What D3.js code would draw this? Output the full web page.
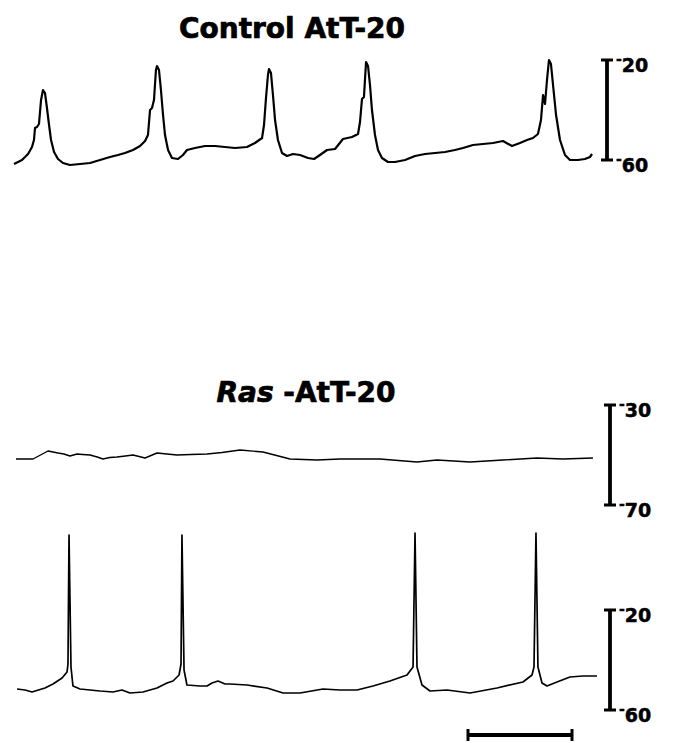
<!DOCTYPE html>
<html>
<head>
<meta charset="utf-8">
<script src="https://cdn.jsdelivr.net/npm/d3@7"></script>
<style>
  body { margin: 0; background: #fff; }
  svg { display: block; }
  .title { font-family: "DejaVu Sans", sans-serif; font-weight: bold; font-size: 28px; stroke: #000; stroke-width: 0.7px; }
  .bar-label { font-family: "DejaVu Sans", sans-serif; font-weight: bold; font-size: 19px; stroke: #000; stroke-width: 0.5px; }
</style>
</head>
<body>
<div id="chart"></div>
<script>
// membrane potential traces, time in s, voltage in mV
var controlTime = [0, .077, .135, .173, .192, .202, .221, .24, .26, .279, .298, .317, .337, .356, .385, .423, .471, .538, .635, .731, .827, .923, 1.0, 1.067, 1.144, 1.212, 1.26, 1.288, 1.308, 1.327, 1.346, 1.365, 1.375, 1.394, 1.413, 1.433, 1.452, 1.481, 1.519, 1.577, 1.625, 1.663, 1.74, 1.837, 1.933, 2.029, 2.125, 2.24, 2.317, 2.385, 2.404, 2.423, 2.442, 2.452, 2.471, 2.49, 2.51, 2.538, 2.577, 2.625, 2.683, 2.75, 2.827, 2.885, 2.942, 3.01, 3.087, 3.163, 3.25, 3.308, 3.327, 3.346, 3.365, 3.385, 3.404, 3.423, 3.442, 3.471, 3.5, 3.538, 3.596, 3.663, 3.76, 3.856, 3.952, 4.048, 4.144, 4.24, 4.317, 4.413, 4.51, 4.606, 4.702, 4.788, 4.865, 4.933, 4.99, 5.038, 5.067, 5.087, 5.106, 5.125, 5.144, 5.163, 5.183, 5.212, 5.25, 5.298, 5.346, 5.423, 5.49, 5.538, 5.558];
var controlVm = [-61.6, -60, -57.6, -54.8, -52, -47.2, -46.8, -45.6, -36, -32, -33.2, -39.2, -46, -52, -56.8, -59.6, -61.2, -62, -61.6, -61.2, -60, -58.8, -58, -57.2, -56, -54.4, -52.4, -50, -40, -39.2, -36, -24, -22.4, -24, -32, -42, -50, -56, -59.2, -59.6, -58, -56, -55.2, -54.4, -54.4, -54.8, -55.2, -54.8, -53.2, -51.2, -46, -35.2, -26, -23.6, -25.2, -34, -44, -52, -57.2, -58.4, -57.6, -58, -59.2, -59.6, -58, -56, -55.6, -51.6, -50.8, -49.6, -44.8, -35.6, -34.8, -20.8, -22.4, -30, -40, -50, -56, -59.2, -60.8, -60.8, -60, -58.4, -57.6, -57.2, -56.8, -56, -55.2, -54, -53.6, -53.2, -52.4, -54.4, -53.2, -52, -51.2, -49.6, -44, -34, -37.6, -28, -20, -21.6, -30, -42, -52, -58, -60, -60, -59.6, -58.8, -57.6];

var rasQuietTime = [.019, .183, .327, .375, .423, .48, .538, .606, .66, .731, .8, .856, .92, .99, 1.07, 1.144, 1.26, 1.375, 1.567, 1.7, 1.856, 2.0, 2.173, 2.394, 2.654, 2.913, 3.135, 3.519, 3.875, 4.067, 4.385, 4.702, 5.029, 5.279, 5.567];
var rasQuietVm = [-51.6, -51.6, -48.4, -48.8, -49.2, -49.6, -50.4, -49.6, -49.8, -50, -50.8, -51.6, -51, -50.8, -50.4, -50, -51.2, -49.2, -50, -49.8, -49.6, -49, -48, -48.8, -51.6, -52, -51.6, -51.6, -52.8, -52, -52.8, -52, -51.2, -51.6, -51.2];

var rasFiringTime = [.029, .106, .173, .298, .375, .462, .51, .519, .529, .548, .567, .635, .827, .952, 1.038, 1.115, 1.24, 1.375, 1.471, 1.529, 1.587, 1.606, 1.615, 1.635, 1.663, 1.788, 1.856, 1.904, 1.962, 2.029, 2.077, 2.24, 2.433, 2.587, 2.75, 2.971, 3.135, 3.298, 3.452, 3.615, 3.779, 3.837, 3.856, 3.875, 3.923, 4.0, 4.163, 4.385, 4.644, 4.894, 4.981, 5.0, 5.019, 5.038, 5.077, 5.125, 5.221, 5.346, 5.471, 5.606];
var rasFiringVm = [-51.6, -52, -52.8, -51.2, -49.6, -47.2, -44.8, -41.6, 10, -42.8, -50.4, -51.6, -52.4, -52.8, -52, -53.2, -52.8, -51.2, -49.2, -48.4, -46, -41.6, 10, -44, -50, -50.4, -50.4, -49.2, -48.4, -49.6, -49.6, -50, -51.2, -53.2, -53.2, -51.6, -52, -52, -50.4, -48.4, -46, -42.8, 10.8, -42.8, -50, -52.4, -52, -53.2, -51.2, -48.8, -46, -42.8, 10.8, -42.8, -49.2, -50.4, -48.8, -46.8, -46.4, -46.4];

// voltage scale bars (mV): [bottom, top]
var controlScale = [-60, -20];
var rasQuietScale = [-70, -30];
var rasFiringScale = [-60, -20];
var timeBarSeconds = 1;

var titles = ["Control AtT-20", "Ras", " -AtT-20"];

var width = 674, height = 743;

var svg = d3.select("#chart").append("svg")
  .attr("width", width)
  .attr("height", height);

var x = d3.scaleLinear().domain([0, 1]).range([14, 118]);

var panels = [
  { time: controlTime, vm: controlVm, scale: controlScale, range: [160, 60], barX: 607, sw: 2.2 },
  { time: rasQuietTime, vm: rasQuietVm, scale: rasQuietScale, range: [505, 405], barX: 610, sw: 1.4 },
  { time: rasFiringTime, vm: rasFiringVm, scale: rasFiringScale, range: [710, 610], barX: 610, sw: 1.7 }
];

panels.forEach(function(p) {
  var y = d3.scaleLinear().domain(p.scale).range(p.range);
  var pts = p.time.map(function(t, i) { return [t, p.vm[i]]; });

  var line = d3.line()
    .x(function(d) { return x(d[0]); })
    .y(function(d) { return y(d[1]); });

  svg.append("path")
    .datum(pts)
    .attr("d", line)
    .attr("fill", "none")
    .attr("stroke", "#000")
    .attr("stroke-width", p.sw)
    .attr("stroke-linejoin", "round");

  var g = svg.append("g");
  g.append("line")
    .attr("x1", p.barX).attr("x2", p.barX)
    .attr("y1", y(p.scale[0])).attr("y2", y(p.scale[1]))
    .attr("stroke", "#000").attr("stroke-width", 3.8);

  g.selectAll(".cap")
    .data(p.scale)
    .enter()
    .append("line")
      .attr("x1", p.barX - 6).attr("x2", p.barX + 6)
      .attr("y1", function(d) { return y(d); })
      .attr("y2", function(d) { return y(d); })
      .attr("stroke", "#000").attr("stroke-width", 3);

  var lab = g.selectAll(".bar-label")
    .data(p.scale)
    .enter()
    .append("text")
      .attr("class", "bar-label")
      .attr("x", p.barX + 9)
      .attr("y", function(d) { return y(d) + 12; });
  lab.append("tspan")
    .attr("font-size", 14)
    .attr("dy", -8)
    .text("-");
  lab.append("tspan")
    .attr("dy", 8)
    .text(function(d) { return Math.abs(d); });
});

// time scale bar
var tb = svg.append("g");
var tx0 = 468, tx1 = tx0 + (x(timeBarSeconds) - x(0));
tb.append("line")
  .attr("x1", tx0).attr("x2", tx1).attr("y1", 735).attr("y2", 735)
  .attr("stroke", "#000").attr("stroke-width", 3.8);
[tx0, tx1].forEach(function(d) {
  tb.append("line")
    .attr("x1", d).attr("x2", d).attr("y1", 729).attr("y2", 741)
    .attr("stroke", "#000").attr("stroke-width", 3);
});

// titles
svg.append("text")
  .attr("class", "title")
  .attr("x", 292)
  .attr("y", 38)
  .attr("text-anchor", "middle")
  .text(titles[0]);

var t2 = svg.append("text")
  .attr("class", "title")
  .attr("x", 306)
  .attr("y", 402)
  .attr("text-anchor", "middle")
  .style("white-space", "pre");
t2.append("tspan").attr("font-style", "italic").text(titles[1]);
t2.append("tspan").text(titles[2]);
</script>
</body>
</html>
